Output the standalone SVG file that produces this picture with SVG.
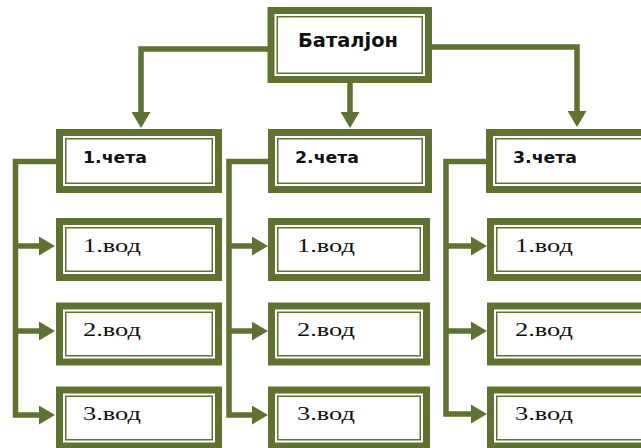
<svg xmlns="http://www.w3.org/2000/svg" width="641" height="448" viewBox="0 0 641 448">
<style>
.thick{fill:#fff;stroke:#5f7232;stroke-width:7}
.thin{fill:none;stroke:#5f7232;stroke-width:1.5}
.conn{fill:none;stroke:#5f7232;stroke-width:5.5;stroke-linejoin:miter}
.head{font-family:"DejaVu Sans","Liberation Sans",sans-serif;font-weight:bold;font-size:16px;fill:#111}
.top{font-family:"DejaVu Sans","Liberation Sans",sans-serif;font-weight:bold;font-size:19px;fill:#111}
.vod{font-family:"Liberation Serif","DejaVu Serif",serif;font-size:19px;fill:#111}
</style>
<defs>
<marker id="arr" viewBox="0 0 16 19" refX="0" refY="9.5" markerWidth="16" markerHeight="19" markerUnits="userSpaceOnUse" orient="auto">
<path d="M0,0 L16,9.5 L0,19 z" fill="#5f7232"/>
</marker>
</defs>
<rect width="641" height="448" fill="#fff"/>
<g id="connectors">
<path class="conn" d="M268 49 H141 V112" marker-end="url(#arr)"/>
<path class="conn" d="M350 83 V112" marker-end="url(#arr)"/>
<path class="conn" d="M432 47 H577 V111" marker-end="url(#arr)"/>
<path class="conn" d="M56 161.5 H15.5 V415 H39" marker-end="url(#arr)"/>
<path class="conn" d="M15.5 246 H39" marker-end="url(#arr)"/>
<path class="conn" d="M15.5 331 H39" marker-end="url(#arr)"/>
<path class="conn" d="M268 161.5 H229 V415 H252" marker-end="url(#arr)"/>
<path class="conn" d="M229 246 H252" marker-end="url(#arr)"/>
<path class="conn" d="M229 331 H252" marker-end="url(#arr)"/>
<path class="conn" d="M486 161.5 H446 V414 H471" marker-end="url(#arr)"/>
<path class="conn" d="M446 246 H471" marker-end="url(#arr)"/>
<path class="conn" d="M446 331 H471" marker-end="url(#arr)"/>
</g>
<g id="bataljon">
<rect class="thick" x="271" y="10.5" width="157.5" height="69"/>
<rect class="thin" x="277.25" y="16.75" width="145" height="56.5"/>
<text class="top" x="298" y="46.5" textLength="100" lengthAdjust="spacingAndGlyphs">Баталјон</text>
</g>
<g id="ceta1">
<rect class="thick" x="59.5" y="132.5" width="159" height="57"/>
<rect class="thin" x="65.75" y="138.75" width="146.5" height="44.5"/>
<text class="head" x="83" y="162.5" textLength="64" lengthAdjust="spacingAndGlyphs">1.чета</text>
</g>
<g id="ceta2">
<rect class="thick" x="271.5" y="132.5" width="157" height="57"/>
<rect class="thin" x="277.75" y="138.75" width="144.5" height="44.5"/>
<text class="head" x="295" y="162.5" textLength="64" lengthAdjust="spacingAndGlyphs">2.чета</text>
</g>
<g id="ceta3">
<rect class="thick" x="489.5" y="132.5" width="170" height="57"/>
<rect class="thin" x="495.75" y="138.75" width="157.5" height="44.5"/>
<text class="head" x="513" y="162.5" textLength="64" lengthAdjust="spacingAndGlyphs">3.чета</text>
</g>
<g id="c1v1">
<rect class="thick" x="59.5" y="221.5" width="159" height="56"/>
<rect class="thin" x="65.75" y="227.75" width="146.5" height="43.5"/>
<text class="vod" x="83" y="251.5" textLength="58" lengthAdjust="spacingAndGlyphs">1.вод</text>
</g>
<g id="c1v2">
<rect class="thick" x="59.5" y="306" width="159" height="56"/>
<rect class="thin" x="65.75" y="312.25" width="146.5" height="43.5"/>
<text class="vod" x="83" y="335.5" textLength="58" lengthAdjust="spacingAndGlyphs">2.вод</text>
</g>
<g id="c1v3">
<rect class="thick" x="59.5" y="390" width="159" height="56"/>
<rect class="thin" x="65.75" y="396.25" width="146.5" height="43.5"/>
<text class="vod" x="83" y="419.5" textLength="58" lengthAdjust="spacingAndGlyphs">3.вод</text>
</g>
<g id="c2v1">
<rect class="thick" x="271.5" y="221.5" width="155" height="56"/>
<rect class="thin" x="277.75" y="227.75" width="142.5" height="43.5"/>
<text class="vod" x="297" y="251.5" textLength="58" lengthAdjust="spacingAndGlyphs">1.вод</text>
</g>
<g id="c2v2">
<rect class="thick" x="271.5" y="306" width="155" height="56"/>
<rect class="thin" x="277.75" y="312.25" width="142.5" height="43.5"/>
<text class="vod" x="297" y="335.5" textLength="58" lengthAdjust="spacingAndGlyphs">2.вод</text>
</g>
<g id="c2v3">
<rect class="thick" x="271.5" y="390" width="155" height="56"/>
<rect class="thin" x="277.75" y="396.25" width="142.5" height="43.5"/>
<text class="vod" x="297" y="419.5" textLength="58" lengthAdjust="spacingAndGlyphs">3.вод</text>
</g>
<g id="c3v1">
<rect class="thick" x="490.5" y="221.5" width="170" height="56"/>
<rect class="thin" x="496.75" y="227.75" width="157.5" height="43.5"/>
<text class="vod" x="515" y="251.5" textLength="58" lengthAdjust="spacingAndGlyphs">1.вод</text>
</g>
<g id="c3v2">
<rect class="thick" x="490.5" y="306" width="170" height="56"/>
<rect class="thin" x="496.75" y="312.25" width="157.5" height="43.5"/>
<text class="vod" x="515" y="335.5" textLength="58" lengthAdjust="spacingAndGlyphs">2.вод</text>
</g>
<g id="c3v3">
<rect class="thick" x="490.5" y="390" width="170" height="56"/>
<rect class="thin" x="496.75" y="396.25" width="157.5" height="43.5"/>
<text class="vod" x="515" y="419.5" textLength="58" lengthAdjust="spacingAndGlyphs">3.вод</text>
</g>
</svg>
